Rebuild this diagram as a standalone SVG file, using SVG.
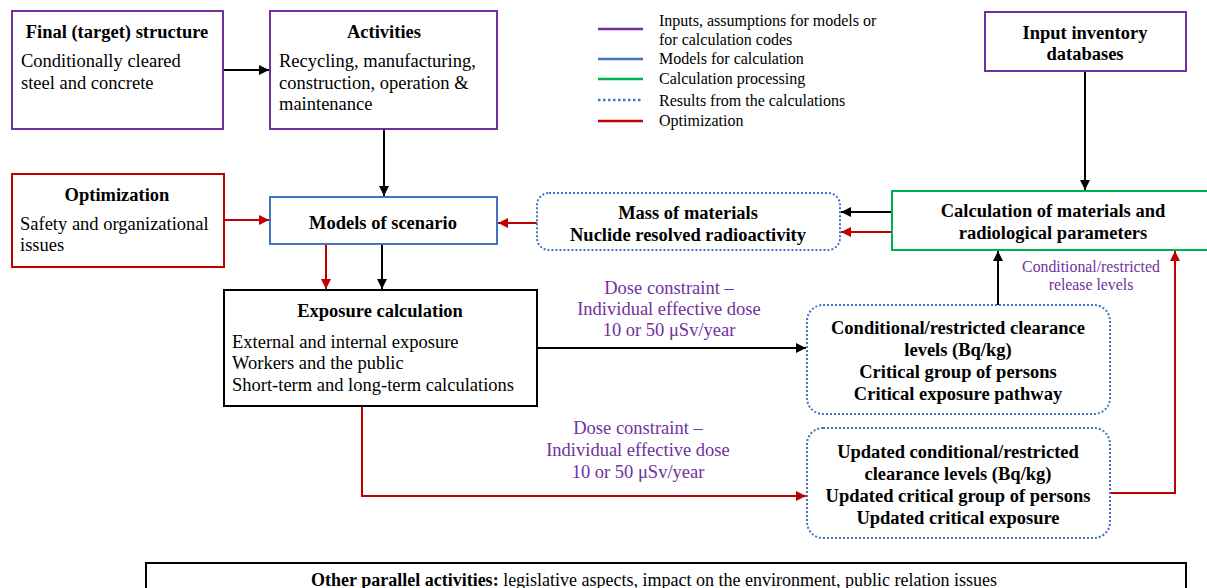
<svg xmlns="http://www.w3.org/2000/svg" width="1207" height="588" viewBox="0 0 1207 588" font-family="'Liberation Serif', 'Times New Roman', serif">
<style>
text{font-family:"Liberation Serif","Times New Roman",serif;fill:#000;}
.t{font-size:18.5px;font-weight:bold;text-anchor:middle;}
.b{font-size:18.5px;}
.lg{font-size:16px;}
.pl{font-size:18.5px;fill:#7030A0;text-anchor:middle;}
.ps{font-size:15.8px;fill:#7030A0;text-anchor:middle;}
.purple{fill:#fff;stroke:#7030A0;stroke-width:2;}
.blue{fill:#fff;stroke:#4472C4;stroke-width:2;}
.green{fill:#fff;stroke:#00B050;stroke-width:2;}
.red{fill:#fff;stroke:#C00000;stroke-width:2;}
.blk{fill:#fff;stroke:#000;stroke-width:2;}
.dot{fill:#fff;stroke:#4472C4;stroke-width:2;stroke-dasharray:2 2;}
.ck{fill:none;stroke:#000;stroke-width:2;}
.cr{fill:none;stroke:#C00000;stroke-width:2;}
</style>
<defs>
<marker id="ak" viewBox="0 0 10 10" refX="10" refY="5" markerWidth="11" markerHeight="10" markerUnits="userSpaceOnUse" orient="auto"><path d="M0,0 L10,5 L0,10 z" fill="#000"/></marker>
<marker id="ar" viewBox="0 0 10 10" refX="10" refY="5" markerWidth="11" markerHeight="10" markerUnits="userSpaceOnUse" orient="auto"><path d="M0,0 L10,5 L0,10 z" fill="#C00000"/></marker>
</defs>

<g id="legend">
<line x1="598" y1="29" x2="643" y2="29" stroke="#7030A0" stroke-width="2.5"/>
<line x1="598" y1="59" x2="643" y2="59" stroke="#4472C4" stroke-width="2.5"/>
<line x1="598" y1="79" x2="643" y2="79" stroke="#00B050" stroke-width="2.5"/>
<line x1="598" y1="100" x2="643" y2="100" stroke="#4472C4" stroke-width="2.5" stroke-dasharray="2.5 2.5"/>
<line x1="598" y1="121" x2="643" y2="121" stroke="#C00000" stroke-width="2.5"/>
<text class="lg" x="659" y="26">Inputs, assumptions for models or</text>
<text class="lg" x="659" y="45">for calculation codes</text>
<text class="lg" x="659" y="64">Models for calculation</text>
<text class="lg" x="659" y="84">Calculation processing</text>
<text class="lg" x="659" y="106">Results from the calculations</text>
<text class="lg" x="659" y="126">Optimization</text>
</g>

<g id="connectors">
<line class="ck" x1="223" y1="70" x2="269" y2="70" marker-end="url(#ak)"/>
<line class="ck" x1="384" y1="129" x2="384" y2="196" marker-end="url(#ak)"/>
<line class="cr" x1="224" y1="220" x2="269" y2="220" marker-end="url(#ar)"/>
<line class="cr" x1="537" y1="223" x2="498" y2="223" marker-end="url(#ar)"/>
<line class="ck" x1="1085" y1="71" x2="1085" y2="190" marker-end="url(#ak)"/>
<line class="ck" x1="892" y1="212" x2="841" y2="212" marker-end="url(#ak)"/>
<line class="cr" x1="892" y1="232" x2="841" y2="232" marker-end="url(#ar)"/>
<line class="cr" x1="326" y1="244" x2="326" y2="289" marker-end="url(#ar)"/>
<line class="ck" x1="382" y1="244" x2="382" y2="289" marker-end="url(#ak)"/>
<line class="ck" x1="537" y1="348" x2="806" y2="348" marker-end="url(#ak)"/>
<line class="ck" x1="998" y1="305" x2="998" y2="251" marker-end="url(#ak)"/>
<polyline class="cr" points="362,406 362,496 806,496" marker-end="url(#ar)"/>
<polyline class="cr" points="1110,493 1175,493 1175,251" marker-end="url(#ar)"/>
<text class="pl" x="669" y="294">Dose constraint –</text>
<text class="pl" x="669" y="315">Individual effective dose</text>
<text class="pl" x="669" y="336">10 or 50 μSv/year</text>
<text class="pl" x="638" y="434">Dose constraint –</text>
<text class="pl" x="638" y="456">Individual effective dose</text>
<text class="pl" x="638" y="478">10 or 50 μSv/year</text>
<text class="ps" x="1091" y="272">Conditional/restricted</text>
<text class="ps" x="1091" y="290">release levels</text>
</g>

<g id="final-structure">
<rect class="purple" x="12" y="11" width="211" height="118"/>
<text class="t" x="117" y="38">Final (target) structure</text>
<text class="b" x="21" y="67">Conditionally cleared</text>
<text class="b" x="21" y="89">steel and concrete</text>
</g>

<g id="activities">
<rect class="purple" x="270" y="11" width="227" height="118"/>
<text class="t" x="384" y="38">Activities</text>
<text class="b" x="279" y="67">Recycling, manufacturing,</text>
<text class="b" x="279" y="89">construction, operation &amp;</text>
<text class="b" x="279" y="110">maintenance</text>
</g>

<g id="input-inventory">
<rect class="purple" x="985" y="12" width="201" height="59"/>
<text class="t" x="1085" y="39">Input inventory</text>
<text class="t" x="1085" y="60">databases</text>
</g>

<g id="optimization">
<rect class="red" x="12" y="174" width="212" height="93"/>
<text class="t" x="117" y="201">Optimization</text>
<text class="b" x="20" y="230">Safety and organizational</text>
<text class="b" x="20" y="251">issues</text>
</g>

<g id="models">
<rect class="blue" x="270" y="197" width="227" height="47"/>
<text class="t" x="383" y="229">Models of scenario</text>
</g>

<g id="mass">
<rect class="dot" x="537" y="193" width="303" height="57" rx="12"/>
<text class="t" x="688" y="219">Mass of materials</text>
<text class="t" x="688" y="241">Nuclide resolved radioactivity</text>
</g>

<g id="calculation">
<rect class="green" x="892" y="191" width="320" height="59"/>
<text class="t" x="1053" y="217">Calculation of materials and</text>
<text class="t" x="1053" y="239">radiological parameters</text>
</g>

<g id="exposure">
<rect class="blk" x="224" y="290" width="313" height="116"/>
<text class="t" x="380" y="317">Exposure calculation</text>
<text class="b" x="232" y="348">External and internal exposure</text>
<text class="b" x="232" y="369">Workers and the public</text>
<text class="b" x="232" y="391">Short-term and long-term calculations</text>
</g>

<g id="conditional">
<rect class="dot" x="807" y="305" width="303" height="109" rx="16"/>
<text class="t" x="958" y="334">Conditional/restricted clearance</text>
<text class="t" x="958" y="356">levels (Bq/kg)</text>
<text class="t" x="958" y="378">Critical group of persons</text>
<text class="t" x="958" y="400">Critical exposure pathway</text>
</g>

<g id="updated">
<rect class="dot" x="807" y="428" width="303" height="110" rx="16"/>
<text class="t" x="958" y="458">Updated conditional/restricted</text>
<text class="t" x="958" y="480">clearance levels (Bq/kg)</text>
<text class="t" x="958" y="502">Updated critical group of persons</text>
<text class="t" x="958" y="524">Updated critical exposure</text>
</g>

<g id="parallel">
<rect class="blk" x="146" y="563" width="1040" height="40"/>
<text x="311" y="586" style="font-size:18px;"><tspan font-weight="bold">Other parallel activities:</tspan> legislative aspects, impact on the environment, public relation issues</text>
</g>
</svg>
